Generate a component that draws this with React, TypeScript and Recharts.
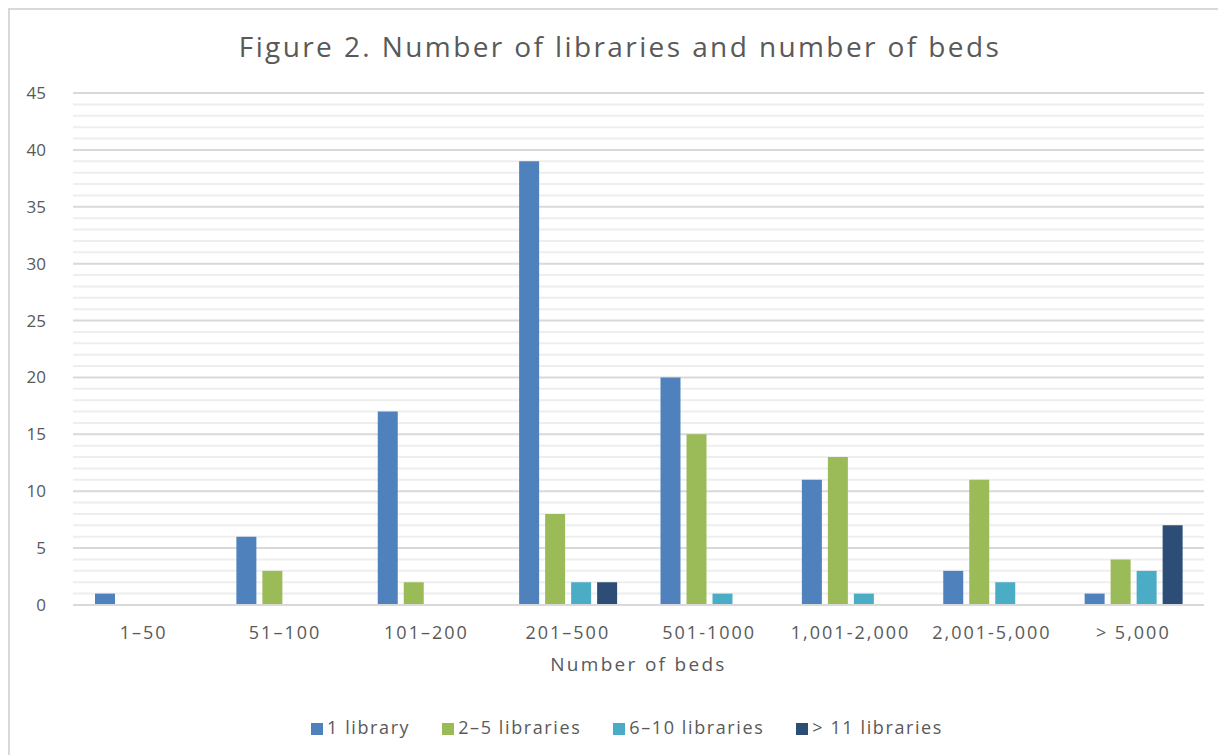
import { BarChart, Bar, XAxis, YAxis, CartesianGrid, Legend } from 'recharts'

const categories = ['1–50', '51–100', '101–200', '201–500', '501-1000', '1,001-2,000', '2,001-5,000', '> 5,000']
const oneLibrary = [1, 6, 17, 39, 20, 11, 3, 1]
const twoToFive = [0, 3, 2, 8, 15, 13, 11, 4]
const sixToTen = [0, 0, 0, 2, 1, 1, 2, 3]
const elevenPlus = [0, 0, 0, 2, 0, 0, 0, 7]

const yTicks = [0, 5, 10, 15, 20, 25, 30, 35, 40, 45]
const minorTicks = [
  1, 2, 3, 4, 6, 7, 8, 9, 11, 12, 13, 14, 16, 17, 18, 19, 21, 22, 23, 24,
  26, 27, 28, 29, 31, 32, 33, 34, 36, 37, 38, 39, 41, 42, 43, 44,
]
const yMax = 45

const data = categories.map((name, i) => ({
  name,
  one: oneLibrary[i],
  two: twoToFive[i],
  six: sixToTen[i],
  eleven: elevenPlus[i],
}))

const textColor = '#595959'
const font = '"Open Sans", sans-serif'

// minor gridlines: use the axis scale when recharts hands it over, otherwise map through the plot offset
const minorLines = ({ yAxis, offset }: any) => {
  if (yAxis && typeof yAxis.scale === 'function') return minorTicks.map((v) => yAxis.scale(v))
  return minorTicks.map((v) => offset.top + offset.height * (1 - v / yMax))
}

export default function App() {
  return (
    <div
      style={{
        position: 'relative',
        width: 1230,
        height: 760,
        border: '2px solid #d9d9d9',
        background: '#fff',
        boxSizing: 'border-box',
        fontFamily: font,
      }}
    >
      <div
        style={{
          position: 'absolute',
          top: 17,
          left: 0,
          width: 1220,
          textAlign: 'center',
          fontSize: 28,
          letterSpacing: 2.4,
          color: textColor,
        }}
      >
        Figure 2. Number of libraries and number of beds
      </div>
      <BarChart
        width={1218}
        height={750}
        data={data}
        margin={{ top: 83, right: 24, left: 20, bottom: 21 }}
        barGap={6}
        barSize={20}
      >
        <CartesianGrid
          vertical={false}
          stroke="#eeeeee"
          strokeWidth={2}
          horizontalCoordinatesGenerator={minorLines}
        />
        <CartesianGrid vertical={false} stroke="#d9d9d9" strokeWidth={2} />
        <XAxis
          dataKey="name"
          height={110}
          axisLine={{ stroke: '#d9d9d9', strokeWidth: 2 }}
          tickLine={false}
          tickSize={0}
          tickMargin={21}
          tick={{ fill: textColor, fontSize: 18, fontFamily: font, letterSpacing: 2 }}
          label={{
            value: 'Number of beds',
            position: 'insideTop',
            offset: 53,
            fill: textColor,
            fontSize: 19,
            fontFamily: font,
            letterSpacing: 2.3,
          }}
        />
        <YAxis
          domain={[0, yMax]}
          ticks={yTicks}
          width={43}
          axisLine={false}
          tickLine={false}
          tickSize={0}
          tickMargin={27}
          tick={{ fill: textColor, fontSize: 17, fontFamily: font }}
        />
        <Legend
          verticalAlign="bottom"
          iconType="square"
          iconSize={12}
          wrapperStyle={{ fontFamily: font, fontSize: 18, letterSpacing: 1.6, color: textColor, paddingLeft: 26 }}
          formatter={(value: string) => <span style={{ color: textColor, marginRight: 22 }}>{value}</span>}
        />
        <Bar dataKey="one" name="1 library" fill="#4f81bd" isAnimationActive={false} />
        <Bar dataKey="two" name="2–5 libraries" fill="#9bbb59" isAnimationActive={false} />
        <Bar dataKey="six" name="6–10 libraries" fill="#4bacc6" isAnimationActive={false} />
        <Bar dataKey="eleven" name="> 11 libraries" fill="#2c4d75" isAnimationActive={false} />
      </BarChart>
    </div>
  )
}
